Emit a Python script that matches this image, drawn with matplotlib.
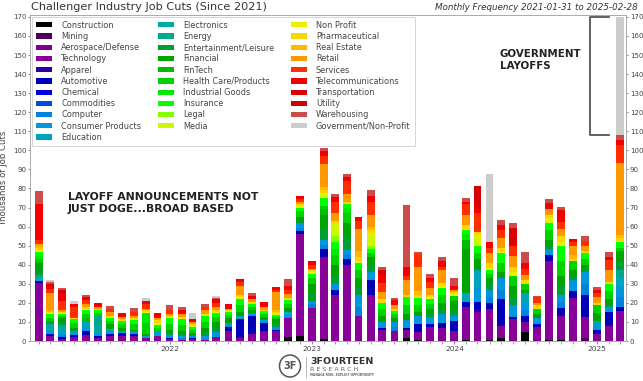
import matplotlib; matplotlib.use('Agg')
import matplotlib.pyplot as plt
import matplotlib.dates as mdates
from matplotlib.patches import Ellipse
from matplotlib.lines import Line2D
import numpy as np
import pandas as pd

# ---- data (thousands of job cuts) --------------------------------------------
months = pd.date_range('2021-01-31', '2025-02-28', freq='ME')

categories = [
    'Construction', 'Mining', 'Aerospace/Defense', 'Technology', 'Apparel',
    'Automotive', 'Chemical', 'Commodities', 'Computer', 'Consumer Products',
    'Education', 'Electronics', 'Energy', 'Entertainment/Leisure', 'Financial',
    'FinTech', 'Health Care/Products', 'Industrial Goods', 'Insurance', 'Legal',
    'Media', 'Non Profit', 'Pharmaceutical', 'Real Estate', 'Retail',
    'Services', 'Telecommunications', 'Transportation', 'Utility', 'Warehousing',
    'Government/Non-Profit',
]

construction = [0, 0, 0, 0, 0, 0, 0, 0, 0, 0,
                0, 0, 0, 0, 0, 0, 0, 0, 0, 0,
                0, 2, 2.5, 0, 1, 0, 0, 0, 0, 0,
                0, 1.5, 0.5, 0, 0, 0, 0.5, 0, 0.5, 1.5,
                0, 4.5, 0, 0.5, 0.5, 0, 0, 0, 0, 0]
mining = [0, 0, 0, 0, 0, 0, 0, 0, 0, 0,
          0, 0, 0, 0, 0, 0, 0, 0, 0, 0,
          0, 0, 0, 0, 0, 0, 0, 0, 0, 0,
          0, 0, 0, 0, 0, 0, 0, 0, 0, 0,
          0, 0, 0, 0, 0, 0, 1.5, 0, 0, 0]
aerospace = [0.5, 0, 0, 0, 0, 0, 0, 0, 0, 0,
             0, 0, 0, 0, 0, 0, 0, 0, 0, 0,
             0, 0, 0, 0, 0, 0, 0, 0, 0, 0,
             0, 0, 0, 0, 0, 0, 0, 0, 0, 0,
             0, 0, 0, 0, 0, 0, 0, 0, 0, 0]
technology = [30, 2.5, 1, 2, 3, 1.5, 2.5, 2.5, 2.5, 1.5,
              2.5, 1, 0.5, 1, 0.5, 2, 5, 1.5, 3.5, 5.5,
              5, 10, 53.5, 17.5, 43, 24, 40, 13, 24, 6,
              5.5, 4.5, 4, 7.5, 7, 5, 17.5, 15, 16.5, 6.5,
              11.5, 5.5, 7.5, 41.5, 12.5, 22.5, 11, 3.5, 8, 15.5]
apparel = [0, 0, 0, 0, 0, 0, 0, 0, 0, 0,
           0, 0, 0, 0, 0, 0, 0, 0, 0, 0,
           0, 0, 0, 0, 0, 0, 0, 0, 0, 0,
           0, 0, 0, 0, 0, 0, 0, 2, 0, 0,
           0, 0, 0, 0, 0, 0, 0, 0, 0, 0]
automotive = [0.5, 1, 1, 1, 2.5, 1, 1, 1.5, 1, 0,
              0, 0.5, 0, 0.5, 0, 0, 2.5, 10, 9.5, 4,
              1, 0, 1.5, 0, 4, 3, 3, 0, 8, 1,
              0, 1, 4.5, 1.5, 2.5, 5.5, 2.5, 3.5, 3, 14,
              1, 3, 1.5, 3, 4.5, 3.5, 11.5, 2.5, 7, 2.5]
chemical = [0.5, 0, 0, 0, 0, 0, 0, 0, 0, 0,
            0, 0, 0, 0, 0, 0, 0, 0, 0, 0,
            0, 0, 0, 0, 0, 0, 0, 0, 0, 0,
            0, 0, 0, 0, 0, 0, 0, 0, 0, 0,
            0, 0, 0, 0, 0, 0, 0, 0, 0, 0]
commodities = [0, 0, 0, 0, 0, 0, 0, 0, 0, 0,
               0, 0, 0, 0, 0, 0, 0, 0, 0, 0,
               0, 0, 0, 0, 0, 0, 0, 0, 0, 0,
               0, 0, 0, 0, 0, 0, 0, 0, 0, 0,
               0, 0, 0, 0, 0, 0, 0, 0, 0, 0]
computer = [0, 0, 1, 0, 0, 0, 0, 0, 0, 0,
            0, 0, 1, 0, 0, 0, 0, 0, 0, 0,
            0, 0, 2, 2, 2.5, 0, 2, 5, 0, 0,
            2, 0, 0, 0, 0, 0, 0, 0, 3, 5,
            0, 3, 0, 0, 3, 0, 6, 0, 0, 5]
consumer = [0, 1.5, 1, 2, 2, 1, 1.5, 1.5, 1.5, 0,
            2.5, 1.5, 1, 1, 2, 2.5, 2, 0, 1.5, 1.5,
            1.5, 2, 2.5, 1.5, 2.5, 3, 2.5, 6, 4, 3,
            2.5, 4, 4, 3.5, 4.5, 2.5, 0, 8, 4, 6,
            6.5, 4, 3, 3, 3.5, 6, 6, 3, 3, 6]
education = [1.5, 2.5, 2.5, 0, 2.5, 0, 1.5, 0, 0, 1,
             0, 0, 0, 0, 0, 0, 0, 1.5, 0, 0,
             0, 1, 0, 0, 0, 0, 0, 0, 0, 0,
             0, 0, 0, 0, 0, 0, 4.5, 8.5, 0, 0,
             0, 5, 0, 0, 0, 0, 0, 1.5, 0, 4]
electronics = [0, 1.5, 2, 0, 0, 4.5, 0, 0, 0, 0,
               0, 0, 0, 0, 0, 0, 0, 0, 0, 0,
               0, 0, 0, 0, 0, 0, 0, 0, 0, 0,
               0, 0, 0, 0, 0, 0, 0, 0, 0, 0,
               0, 0, 0, 0, 0, 0, 0, 0, 0, 0]
energy = [1.5, 0, 0, 0, 0, 5, 0, 0, 0, 0,
          0, 0, 0, 0, 0, 0, 0, 0, 0, 0,
          0, 0, 0, 0, 0, 0, 0, 0, 0, 0,
          0, 0, 0, 0, 0, 0, 0, 0, 0, 0,
          0, 0, 0, 0, 0, 0, 0, 0, 0, 4]
entertainment = [3, 1, 2, 1, 0, 0, 0, 0, 0, 0,
                 0, 1.5, 1, 0, 2, 2.5, 0, 0, 0, 0,
                 2, 0, 1.5, 4, 6, 4, 6.5, 4, 4, 0,
                 0, 0, 0, 2, 3, 4, 0, 0, 3, 0,
                 4, 0, 0, 2, 5, 2, 2, 0, 2, 5]
financial = [3.5, 0.5, 1.5, 1, 0, 0, 2.5, 1.5, 1, 1,
             0, 1.5, 1.5, 1.5, 2.5, 3, 2.5, 2, 1.5, 1.5,
             2, 2.5, 1.5, 5, 7, 6, 8, 5, 4, 3,
             2, 3, 2, 2.5, 3, 4, 23, 6, 3, 3,
             6, 2, 2, 3, 5, 3, 2, 4, 2, 5]
fintech = [0.5, 0, 0, 0, 2, 0, 0, 0, 0, 0,
           0, 0, 0, 0, 0, 0, 0, 0, 0, 0,
           0, 0, 0, 0, 3, 0, 0, 0, 0, 0,
           0, 0, 0, 0, 0, 0, 5, 0, 0, 0,
           0, 0, 0, 0, 0, 0, 0, 0, 0, 0]
healthcare = [1.5, 1.5, 1, 2.5, 2, 1.5, 1.5, 2, 3, 6,
              2, 3, 3.5, 2, 3, 2.5, 1.5, 4, 2, 1.5,
              1, 2, 3, 3, 2, 5, 5, 4, 2, 4,
              2, 5, 4, 2.5, 4, 2.5, 0, 3, 2, 5,
              5, 3, 3, 5, 8, 5, 3, 4.5, 4, 2]
industrial = [1.5, 0, 0, 0, 0, 0, 0, 0, 0, 5,
              0, 0, 0, 0, 0, 0, 0, 0, 0, 0,
              0, 0, 0, 0, 0, 3, 3, 0, 0, 0,
              0, 0, 0, 0, 0, 0, 3, 0, 0, 0,
              0, 0, 0, 0, 0, 0, 0, 0, 0, 0]
insurance = [2, 2, 1, 2, 2, 1.5, 1.5, 1.5, 2, 0,
             1.5, 3, 3, 1.5, 3, 2, 1.5, 3, 1.5, 1.5,
             1, 2, 2, 2, 4, 4, 2, 4, 2, 3,
             1.5, 4, 3.5, 2.5, 4, 0, 2, 4, 2, 5,
             0, 0, 0, 4, 8, 0, 3, 0, 4, 3]
legal = [0, 0, 0, 0, 0, 0, 0, 0, 0, 0,
         0, 0, 0, 0, 0, 0, 0, 0, 0, 0,
         0, 0, 0, 0, 0, 3, 0, 0, 2, 0,
         0, 0, 0, 0, 0, 0, 0, 0, 0, 0,
         0, 0, 0, 0, 0, 0, 0, 0, 0, 0]
media = [0.5, 0, 0, 0, 0, 0, 0, 0, 0, 0,
         0, 0, 0, 0, 0, 0, 0, 0, 0, 0,
         0, 0, 0, 0, 1, 7, 0, 0, 5, 0,
         0, 0, 0, 0, 0, 0, 0, 4, 0, 0,
         0, 0, 0, 1, 0, 0, 0, 0, 0, 0]
nonprofit = [0.5, 0.5, 0.5, 0, 1, 0, 0, 0, 0, 0.5,
             1, 0, 0, 0.5, 0, 0.5, 0, 1, 0, 0,
             0.5, 0, 1, 1, 1.5, 0, 0, 1, 1, 0,
             0, 0, 0, 1, 1, 1, 1, 1, 1.5, 1,
             2, 0, 0, 1.5, 2, 0, 0, 0, 0, 0]
pharma = [1.5, 0.5, 0.5, 0.5, 1, 1, 1, 1, 1, 1,
          1.5, 1, 1, 1, 1, 1, 1, 1, 1, 1,
          1, 1, 1, 1, 1.5, 1, 1, 2, 2, 2,
          1.5, 1, 1.5, 1, 1.5, 1, 2, 2, 2.5, 2,
          3, 2, 2, 1.5, 3, 1, 1, 1, 1, 2]
realestate = [1, 1, 0, 0, 0, 0, 0, 0, 0, 0,
              0, 0, 0, 0, 0, 0, 0, 0, 0, 0,
              1, 0, 0, 0, 2, 0, 0, 3, 2, 0,
              0, 0, 2, 0, 0, 0, 0, 0, 0, 0,
              0, 0, 0, 0, 0, 2, 0, 0, 0, 1.5]
retail = [1, 9, 1, 0, 1.5, 1, 2, 1, 1, 1,
          1, 1, 1.5, 1, 2, 2, 1, 5, 1.5, 1.5,
          9.5, 2, 1, 1, 12, 4, 4, 12, 6, 3.5,
          2, 8, 13, 4, 6.5, 1, 5, 0, 5, 5,
          5.5, 2.5, 1, 3, 3.5, 5, 3, 3, 6.5, 38]
services = [2, 2.5, 5, 6, 2, 0, 2, 0, 2, 2.5,
            0, 2, 0, 0, 2, 2, 0, 2, 0, 0,
            1.5, 2.5, 1.5, 2, 4, 6, 7, 4, 7, 5,
            0, 2, 6.5, 3, 2, 0, 6, 10, 3, 4,
            5.5, 3.5, 3, 0, 4, 2, 2.5, 2, 5, 9.5]
telecom = [19, 1.5, 4, 1.5, 1.5, 2, 0, 2, 0, 1.5,
           2.5, 0, 2, 1.5, 0, 2, 2.4, 1.3, 1.5, 2.5,
           1.5, 2, 1.5, 2, 2.5, 2.5, 2, 1.9, 3, 4,
           2.5, 5, 0, 2, 3, 2.5, 1, 3, 3, 3,
           0, 3, 0, 3.5, 6, 1.7, 0, 2, 1.5, 2.5]
transportation = [0, 1, 2, 0, 0, 0, 0, 0, 0, 0,
                  0, 0, 0, 0, 0, 0, 0, 0, 0, 0,
                  0, 0, 0, 0, 0, 0, 0, 0, 0, 2.5,
                  0, 0, 0, 0, 0, 0, 0, 4, 0, 0,
                  9.5, 0, 0, 0, 0, 0, 0, 0, 0, 0]
utility = [0, 0, 0, 0, 0, 0, 0, 0, 0, 0,
           0, 0, 0, 0, 0, 0, 0, 0, 0, 0,
           0, 0, 0, 0, 0, 0, 0, 0, 0, 0,
           0, 0, 0, 0, 0, 0, 0, 7.3, 0, 0,
           0, 0, 0, 0, 0, 0, 0, 0, 0, 0]
warehousing = [6.8, 1, 1, 0, 1, 0, 1.4, 0, 2.1, 0,
               0, 2.7, 2, 0, 1.6, 0.8, 0, 0, 1.8, 0,
               0, 3.5, 0, 0, 1.5, 1.5, 1.4, 0, 3.2, 2,
               1.2, 32.3, 1.4, 2.1, 2.2, 4.2, 2.2, 0, 0, 2.5,
               2.2, 5.5, 0.8, 1.8, 2, 0, 2.5, 1.5, 2.5, 2.5]
government = [0, 1, 0, 1.3, 0, 0, 0, 0, 0, 1.4,
              0, 0, 0, 3, 0, 1, 0, 0, 0, 0,
              0, 0, 0, 0, 0, 0, 0, 0, 0, 0,
              0, 0, 0, 0, 0, 0, 0, 0, 35.6, 0,
              0, 0, 0, 0, 0, 0, 0, 0, 0, 62]

series = [construction, mining, aerospace, technology, apparel, automotive,
          chemical, commodities, computer, consumer, education, electronics,
          energy, entertainment, financial, fintech, healthcare, industrial,
          insurance, legal, media, nonprofit, pharma, realestate, retail,
          services, telecom, transportation, utility, warehousing, government]

# ---- figure ------------------------------------------------------------------
W, H = 643, 381
TXT = '#444444'
colors = plt.cm.nipy_spectral(np.linspace(0, 1, len(categories)))

fig = plt.figure(figsize=(W / 100, H / 100), dpi=100)
ax = fig.add_axes([30 / W, 40 / H, 596 / W, 326 / H])

x = mdates.date2num(months)
bottom = np.zeros(len(months))
for name, vals, c in zip(categories, series, colors):
    vals = np.asarray(vals, dtype=float)
    ax.bar(x, vals, width=20, bottom=bottom, color=c, label=name, linewidth=0)
    bottom += vals

ax.set_xlim(x[0] - 24, x[-1] + 16)
ax.set_ylim(0, 171)
ax.set_yticks(np.arange(0, 171, 10))
ax.xaxis.set_major_locator(mdates.YearLocator())
ax.xaxis.set_major_formatter(mdates.DateFormatter('%Y'))
ax.set_xticks(x, minor=True)
ax.tick_params(axis='both', which='major', labelsize=5.0, colors='#777777',
               labelcolor=TXT, length=1.5, width=0.6, pad=1.2)
ax.tick_params(axis='x', which='major', labelsize=5.3, pad=2)
ax.tick_params(axis='x', which='minor', length=1.8, width=0.5, colors='#777777')
ax.tick_params(axis='y', right=True, labelright=True)
for sp in ax.spines.values():
    sp.set_color('#aaaaaa')
    sp.set_linewidth(0.7)
ax.set_ylabel('Thousands of Job Cuts', fontsize=6.1, color=TXT)
ax.yaxis.set_label_coords(-21.5 / 596, 0.5)

leg = ax.legend(ncol=3, loc='upper left', bbox_to_anchor=(0.003, 0.995),
                fontsize=5.9, frameon=True, fancybox=False, framealpha=1,
                edgecolor='#d0d0d0', labelspacing=0.27, handlelength=2.0,
                handleheight=0.6, handletextpad=1.1, columnspacing=2.0,
                borderaxespad=0, borderpad=0.5)
for t in leg.get_texts():
    t.set_color(TXT)
leg.get_frame().set_linewidth(0.6)

# bracket round the government layoffs of the last month
non_gov = bottom[-1] - government[-1]
ax.add_line(Line2D([x[-1] - 28, x[-1] - 77, x[-1] - 77, x[-1] - 28],
                   [bottom[-1], bottom[-1], non_gov, non_gov],
                   color='#555555', lw=1.3))

fig.text(500 / W, 1 - 60 / H, 'GOVERNMENT\nLAYOFFS', fontsize=7.4,
         fontweight='bold', color='#222222', va='center', ha='left')
fig.text(68 / W, 1 - 203 / H, 'LAYOFF ANNOUNCEMENTS NOT\nJUST DOGE...BROAD BASED',
         fontsize=7.8, fontweight='bold', color='#222222', va='center', ha='left')

fig.text(31 / W, 1 - 7 / H, 'Challenger Industry Job Cuts (Since 2021)',
         fontsize=8.1, color='#333333', va='center', ha='left')
fig.text(638 / W, 1 - 7 / H, 'Monthly Frequency 2021-01-31 to 2025-02-28',
         fontsize=6.3, style='italic', color='#333333', va='center', ha='right')

# logo
fig.add_artist(Ellipse((290 / W, 1 - 366 / H), 21 / W, 22 / H,
                       transform=fig.transFigure, fill=False,
                       ec='#555555', lw=1.1))
fig.text(290 / W, 1 - 366 / H, '3F', fontsize=7, fontweight='bold',
         color='#555555', ha='center', va='center')
fig.add_artist(Line2D([306 / W, 306 / W], [1 - 357 / H, 1 - 377 / H],
                      transform=fig.transFigure, color='#999999', lw=0.5))
fig.text(310 / W, 1 - 361 / H, '3FOURTEEN', fontsize=6.8, fontweight='bold',
         color='#333333', ha='left', va='center')
fig.text(310 / W, 1 - 369.5 / H, 'R E S E A R C H', fontsize=4.6,
         color='#666666', ha='left', va='center')
fig.text(310 / W, 1 - 374.5 / H, 'MANAGE RISK. EXPLOIT OPPORTUNITY', fontsize=2.2,
         fontweight='bold', color='#666666', ha='left', va='center')

fig.savefig('out.png', dpi=100)
